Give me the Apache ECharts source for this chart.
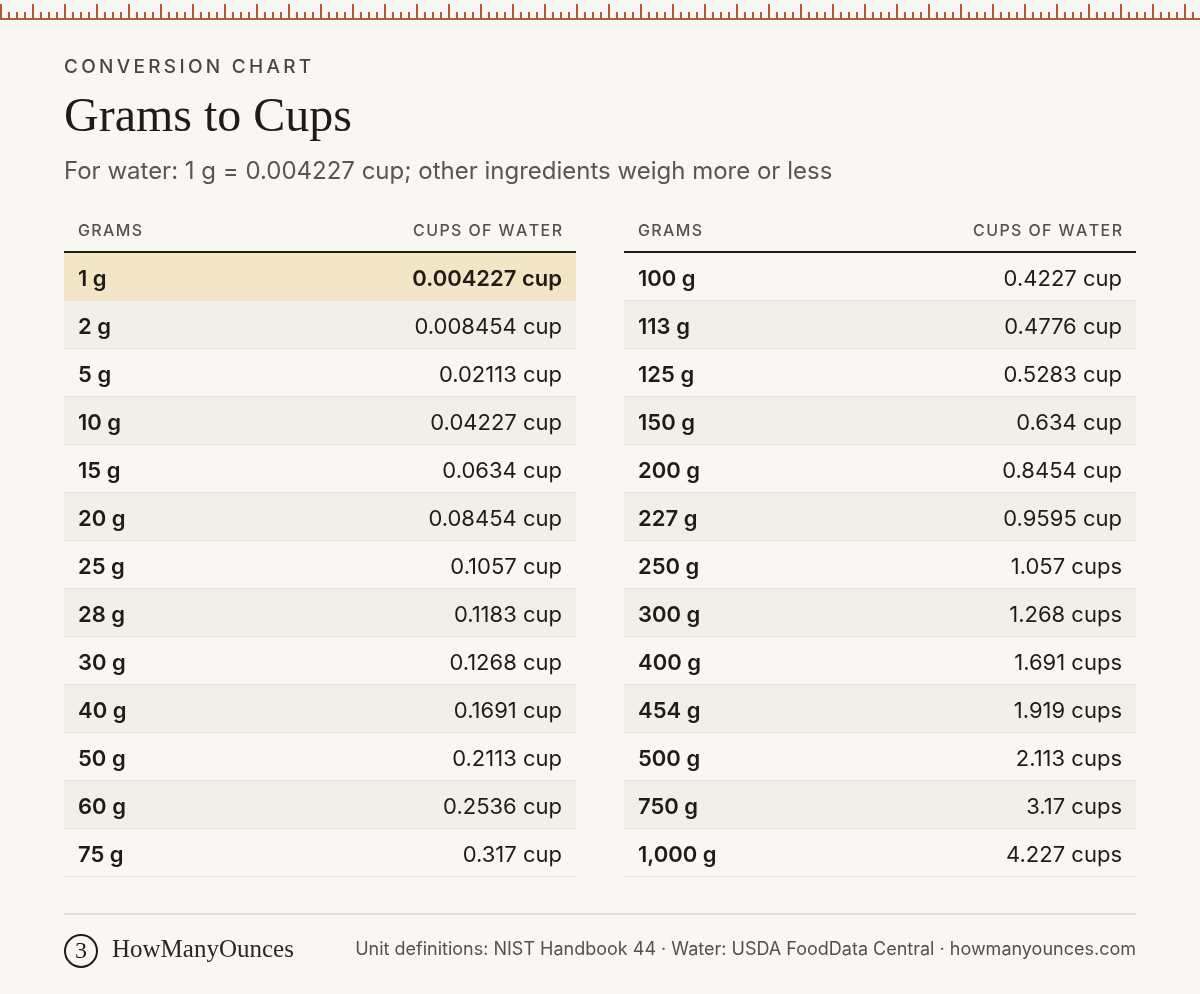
<!DOCTYPE html>
<html><head><meta charset="utf-8">
<script src="https://cdn.jsdelivr.net/npm/echarts@6/dist/echarts.min.js"></script>
<style>html,body{margin:0;padding:0;background:#f9f7f3}#c{width:1200px;height:994px}</style>
</head><body><div id="c"></div>
<script>
const gramsLeft = ['1 g','2 g','5 g','10 g','15 g','20 g','25 g','28 g','30 g','40 g','50 g','60 g','75 g'];
const cupsLeft = ['0.004227 cup','0.008454 cup','0.02113 cup','0.04227 cup','0.0634 cup','0.08454 cup','0.1057 cup','0.1183 cup','0.1268 cup','0.1691 cup','0.2113 cup','0.2536 cup','0.317 cup'];
const gramsRight = ['100 g','113 g','125 g','150 g','200 g','227 g','250 g','300 g','400 g','454 g','500 g','750 g','1,000 g'];
const cupsRight = ['0.4227 cup','0.4776 cup','0.5283 cup','0.634 cup','0.8454 cup','0.9595 cup','1.057 cups','1.268 cups','1.691 cups','1.919 cups','2.113 cups','3.17 cups','4.227 cups'];
const colHeaders = ['GRAMS','CUPS OF WATER'];

const SANS = 'Inter, "Noto Sans", sans-serif';
const SERIF = '"Liberation Serif", "DejaVu Serif", serif';
const spaced = (s, sp) => s.split('').join(sp);
const chart = echarts.init(document.getElementById('c'));

function tableSeries(idx, grams, cups, highlightFirst) {
  return {
    type: 'custom', xAxisIndex: idx, yAxisIndex: idx,
    data: grams.map((g, i) => [i]),
    encode: {y: 0},
    renderItem: function (params, api) {
      const i = api.value(0);
      const c = api.coord([0, i]);
      const c1 = api.coord([1, i]);
      const h = api.size([0, 1])[1];
      const top = c[1] - h / 2;
      const hl = highlightFirst && i === 0;
      const fill = hl ? '#f3e6c6' : (i % 2 === 1 ? '#f2efe8' : 'rgba(0,0,0,0)');
      return {type: 'group', children: [
        {type: 'rect', shape: {x: c[0], y: top, width: c1[0] - c[0], height: h}, style: {fill: fill}},
        {type: 'line', shape: {x1: c[0], y1: top + h - 0.5, x2: c1[0], y2: top + h - 0.5}, style: {stroke: '#e6e1d8', lineWidth: 1}},
        {type: 'text', style: {x: c[0] + 14, y: c[1] + 2, text: grams[i], fill: '#1f1c18', font: '600 22px ' + SANS, textVerticalAlign: 'middle'}},
        {type: 'text', style: {x: c1[0] - 14, y: c[1] + 2, text: cups[i], fill: '#1f1c18', font: (hl ? '600 ' : '400 ') + '22px ' + SANS, textAlign: 'right', textVerticalAlign: 'middle'}}
      ]};
    }
  };
}

const ruler = [];
for (let x = 0; x <= 1200; x += 8) {
  const tall = x % 32 === 0;
  ruler.push({type: 'rect', shape: {x: x, y: tall ? 4 : 12, width: 2, height: tall ? 15 : 7}, style: {fill: '#b35a2e'}});
}
ruler.push({type: 'rect', shape: {x: 0, y: 18, width: 1200, height: 2}, style: {fill: '#b35a2e'}});

function headers(x0, x1) {
  return [
    {type: 'text', left: x0 + 14, top: 223, style: {text: spaced(colHeaders[0], '\u200A'), fill: '#55504a', font: '500 16px ' + SANS}},
    {type: 'text', right: 1200 - x1 + 14, top: 223, style: {text: spaced(colHeaders[1], '\u200A'), fill: '#55504a', font: '500 16px ' + SANS, textAlign: 'right'}},
    {type: 'rect', shape: {x: x0, y: 251, width: x1 - x0, height: 2}, style: {fill: '#1f1c18'}}
  ];
}

const gridL = {left: 64, width: 512, top: 253, height: 624};
const gridR = {left: 624, width: 512, top: 253, height: 624};
const cat = n => ({type: 'category', inverse: true, data: n.map((_, i) => i), show: false});

chart.setOption({
  backgroundColor: '#f9f7f3',
  animation: false,
  grid: [gridL, gridR],
  xAxis: [{type: 'value', min: 0, max: 1, show: false, gridIndex: 0}, {type: 'value', min: 0, max: 1, show: false, gridIndex: 1}],
  yAxis: [Object.assign(cat(gramsLeft), {gridIndex: 0}), Object.assign(cat(gramsRight), {gridIndex: 1})],
  series: [tableSeries(0, gramsLeft, cupsLeft, true), tableSeries(1, gramsRight, cupsRight, false)],
  graphic: [].concat(ruler, [
    {type: 'text', left: 64, top: 58, style: {text: spaced('CONVERSION CHART', '\u2009'), fill: '#4a4540', font: '500 19px ' + SANS}},
    {type: 'text', left: 64, top: 94, style: {text: 'Grams to Cups', fill: '#1f1c18', font: '48px ' + SERIF}},
    {type: 'text', left: 64, top: 160, style: {text: 'For water: 1 g = 0.004227 cup; other ingredients weigh more or less', fill: '#5a554f', font: '400 24px ' + SANS}},
    {type: 'rect', shape: {x: 64, y: 913, width: 1072, height: 2}, style: {fill: '#e3ddd3'}},
    {type: 'circle', shape: {cx: 81, cy: 951, r: 16}, style: {fill: 'none', stroke: '#1f1c18', lineWidth: 2}},
    {type: 'text', x: 81, y: 952, style: {text: '3', fill: '#1f1c18', font: '24px ' + SERIF, textAlign: 'center', textVerticalAlign: 'middle'}},
    {type: 'text', left: 112, top: 938, style: {text: 'HowManyOunces', fill: '#2a2622', font: '25px ' + SERIF}},
    {type: 'text', right: 64, top: 941, style: {text: 'Unit definitions: NIST Handbook 44 · Water: USDA FoodData Central · howmanyounces.com', fill: '#55504a', font: '400 18px ' + SANS, textAlign: 'right'}}
  ], headers(64, 576), headers(624, 1136))
});
</script></body></html>
